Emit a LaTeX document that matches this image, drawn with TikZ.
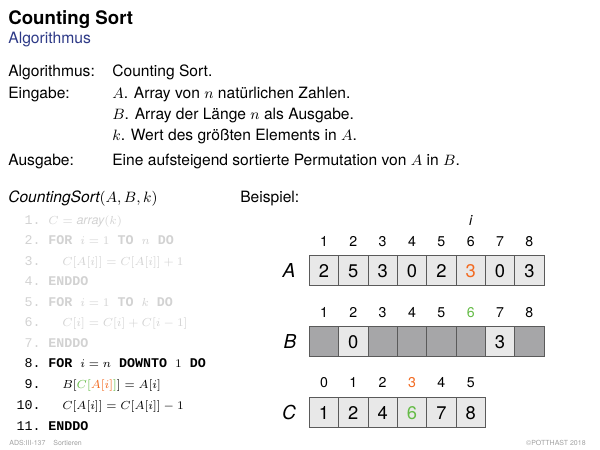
\documentclass[tikz,border=0pt]{standalone}
\usepackage{fontspec}
\setmainfont{TeX Gyre Heros}
\setsansfont{TeX Gyre Heros}
\setmonofont{Liberation Mono}
\definecolor{titleblue}{HTML}{2E3A87}
\definecolor{org}{HTML}{F26A21}
\definecolor{grn}{HTML}{64BB46}
\definecolor{codegray}{HTML}{D2D2D2}
\definecolor{footgray}{HTML}{A0A0A0}
\definecolor{cellfill}{HTML}{E8E8E8}
\definecolor{cellempty}{HTML}{A6A6A8}
\definecolor{cellborder}{HTML}{5A5A5A}
\newcommand{\kw}[1]{{\ttfamily\bfseries #1}}
\newcommand{\cmath}[1]{{\fontsize{7.5}{9}\selectfont$#1$}}
\begin{document}
\begin{tikzpicture}[x=0.6pt,y=-0.6pt,
  txt/.style={anchor=base west,inner sep=0pt,font=\fontsize{9.35}{11}\selectfont},
  cnum/.style={anchor=base east,inner sep=0pt,font=\fontsize{8}{10}\selectfont\ttfamily},
  cline/.style={anchor=base west,inner sep=0pt,font=\fontsize{8}{10}\selectfont\ttfamily},
  faded/.style={text=codegray},
  cell/.style={draw=cellborder,line width=0.6pt,fill=cellfill,minimum width=17.61pt,minimum height=18pt,inner sep=0pt,outer sep=0pt,font=\fontsize{11}{12}\selectfont},
  emptycell/.style={cell,fill=cellempty},
  idx/.style={anchor=base,inner sep=0pt,font=\fontsize{8.5}{10}\selectfont},
  arrlbl/.style={inner sep=0pt,font=\fontsize{11.5}{13}\selectfont\itshape},
  foot/.style={anchor=base west,inner sep=0pt,font=\fontsize{4.2}{5}\selectfont,text=footgray}]
\useasboundingbox (0,0) rectangle (600,450);
% title
\node[anchor=base west,inner sep=0pt,font=\fontsize{11.2}{13}\selectfont\bfseries] (title) at (8,25) {Counting Sort};
\node[anchor=base west,inner sep=0pt,font=\fontsize{9.4}{11}\selectfont,text=titleblue] (sub) at (8,44) {Algorithmus};
% description
\node[txt] (l1) at (8,77) {Algorithmus:};
\node[txt] (r1) at (112,77) {Counting Sort.};
\node[txt] (l2) at (8,98.5) {Eingabe:};
\node[txt] (r2) at (112,98.5) {$A$. Array von $n$ natürlichen Zahlen.};
\node[txt] (r3) at (112,119.5) {$B$. Array der Länge $n$ als Ausgabe.};
\node[txt] (r4) at (112,140.5) {$k$. Wert des größten Elements in $A$.};
\node[txt] (l5) at (8,166) {Ausgabe:};
\node[txt] (r5) at (112,166) {Eine aufsteigend sortierte Permutation von $A$ in $B$.};
% algorithm
\node[txt] (algname) at (8,203) {\itshape CountingSort$(A,B,k)$};
\node[txt] (bsp) at (240,203) {Beispiel:};
\node[cnum,faded] (n1) at (41,224.5) {1.};
\node[cline,faded] (c1) at (48,224.5) {\cmath{C=\textit{\sffamily array}(k)}};
\node[cnum,faded] (n2) at (41,245) {2.};
\node[cline,faded] (c2) at (48,245) {\kw{FOR} \cmath{i=1} \kw{TO} \cmath{n} \kw{DO}};
\node[cnum,faded] (n3) at (41,265.5) {3.};
\node[cline,faded] (c3) at (62,265.5) {\cmath{C[A[i]]=C[A[i]]+1}};
\node[cnum,faded] (n4) at (41,286) {4.};
\node[cline,faded] (c4) at (48,286) {\kw{ENDDO}};
\node[cnum,faded] (n5) at (41,306.5) {5.};
\node[cline,faded] (c5) at (48,306.5) {\kw{FOR} \cmath{i=1} \kw{TO} \cmath{k} \kw{DO}};
\node[cnum,faded] (n6) at (41,327) {6.};
\node[cline,faded] (c6) at (62,327) {\cmath{C[i]=C[i]+C[i-1]}};
\node[cnum,faded] (n7) at (41,347.5) {7.};
\node[cline,faded] (c7) at (48,347.5) {\kw{ENDDO}};
\node[cnum] (n8) at (41,368) {8.};
\node[cline] (c8) at (48,368) {\kw{FOR} \cmath{i=n} \kw{DOWNTO} \cmath{1} \kw{DO}};
\node[cnum] (n9) at (41,389) {9.};
\node[cline] (c9) at (62,389) {\cmath{B[\textcolor{grn}{C[\textcolor{org}{A[i]}]}]=A[i]}};
\node[cnum] (n10) at (41,410) {10.};
\node[cline] (c10) at (62,410) {\cmath{C[A[i]]=C[A[i]]-1}};
\node[cnum] (n11) at (41,430.5) {11.};
\node[cline] (c11) at (48,430.5) {\kw{ENDDO}};
% array A
\node[arrlbl] (la) at (289,271) {A};
\node[idx,font=\fontsize{8.5}{10}\selectfont\itshape] (ilbl) at (470.7,226) {i};
\foreach \v [count=\k] in {2,5,3,0,2,{\color{org}3},0,3} {
  \node[cell] (a\k) at ({309.3+29.35*(\k-0.5)},271) {\v};
  \node[idx] (ia\k) at ({309.3+29.35*(\k-0.5)},246.5) {\k};
}
% array B
\node[arrlbl] (lb) at (290,341.7) {B};
\foreach \k in {1,...,8} {
  \ifnum\k=6
    \node[idx,text=grn] (ib\k) at ({309.3+29.35*(\k-0.5)},317.5) {\k};
  \else
    \node[idx] (ib\k) at ({309.3+29.35*(\k-0.5)},317.5) {\k};
  \fi
}
\node[emptycell] (b1) at ({309.3+29.35*0.5},341.7) {};
\node[cell] (b2) at ({309.3+29.35*1.5},341.7) {0};
\node[emptycell] (b3) at ({309.3+29.35*2.5},341.7) {};
\node[emptycell] (b4) at ({309.3+29.35*3.5},341.7) {};
\node[emptycell] (b5) at ({309.3+29.35*4.5},341.7) {};
\node[emptycell] (b6) at ({309.3+29.35*5.5},341.7) {};
\node[cell] (b7) at ({309.3+29.35*6.5},341.7) {3};
\node[emptycell] (b8) at ({309.3+29.35*7.5},341.7) {};
% array C
\node[arrlbl] (lc) at (289,412.7) {C};
\foreach \v [count=\k from 0] in {1,2,4,{\color{grn}6},7,8} {
  \node[cell] (c\k x) at ({309.3+29.35*(\k+0.5)},412.7) {\v};
}
\foreach \k in {0,...,5} {
  \ifnum\k=3
    \node[idx,text=org] (ic\k) at ({309.3+29.35*(\k+0.5)},388) {\k};
  \else
    \node[idx] (ic\k) at ({309.3+29.35*(\k+0.5)},388) {\k};
  \fi
}
% footer
\node[foot] (f1) at (9,446) {ADS:III-137};
\node[foot] (f2) at (53,446) {Sortieren};
\node[foot,anchor=base east] (f3) at (586,446) {©POTTHAST 2018};
\end{tikzpicture}
\end{document}
